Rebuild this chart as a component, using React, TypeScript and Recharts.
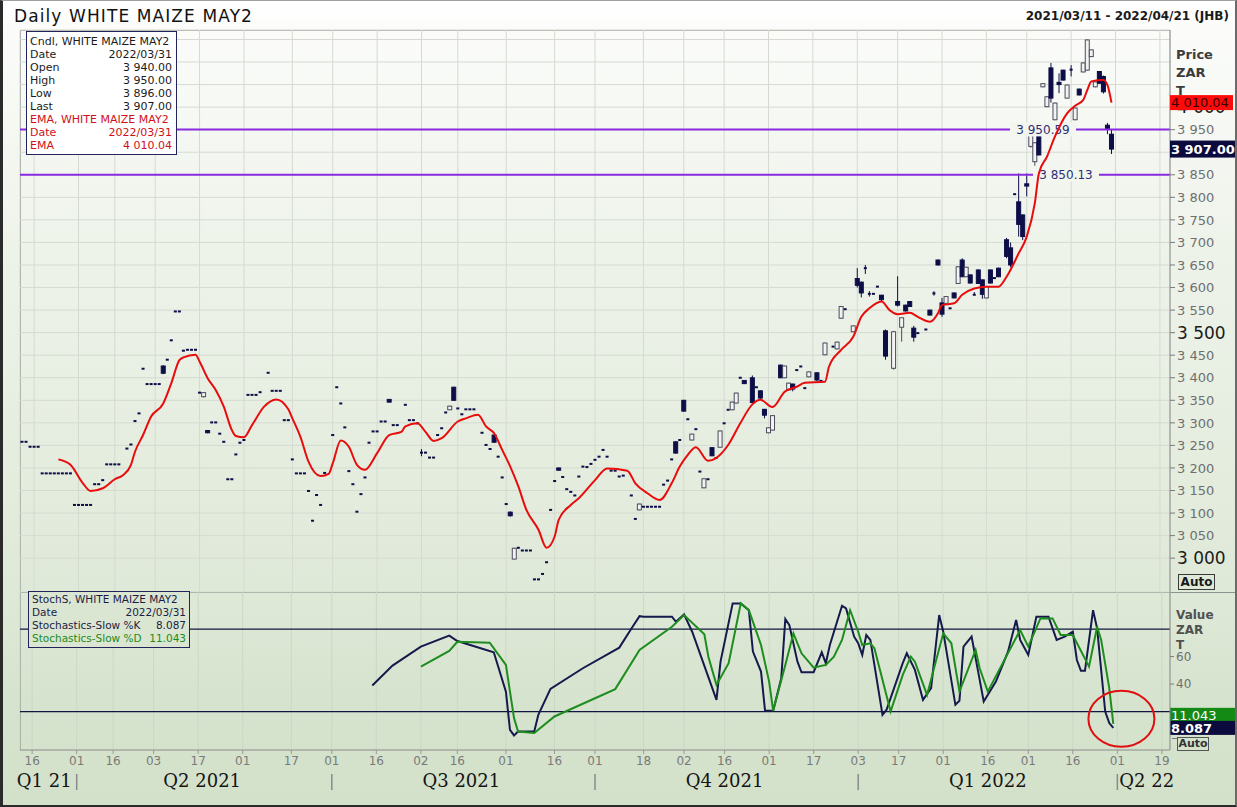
import React from 'react';
import { ComposedChart, Bar, Line, XAxis, YAxis, CartesianGrid, ReferenceLine, ReferenceDot } from 'recharts';

// ---------- axes ----------
const TOTAL_DAYS = 285;
const dateTickIdx = [3, 14, 23, 33, 44, 55, 67, 77, 88, 99, 108, 120, 132, 142, 154, 164, 174, 185, 196, 207, 217, 228, 239, 249, 260, 271, 282];
const dateTickLabel = ['16', '01', '16', '03', '17', '01', '17', '01', '16', '02', '16', '01', '16', '01', '18', '02', '16', '01', '17', '03', '17', '01', '16', '01', '16', '01', '19'];
const quarterTickIdx = [6, 14, 45, 77, 109, 142, 174, 207, 239, 271];
const quarterTickLabel = ['Q1 21', '|', 'Q2 2021', '|', 'Q3 2021', '|', 'Q4 2021', '|', 'Q1 2022', '|Q2 22'];
const priceTicks = [3000, 3050, 3100, 3150, 3200, 3250, 3300, 3350, 3400, 3450, 3500, 3550, 3600, 3650, 3700, 3750, 3800, 3850, 3900, 3950, 4000, 4050, 4100, 4150];
const priceDomain = [2925, 4171];
const stochTicks = [40, 60];
const stochDomain = [-8, 107];
const stochBands = [80, 20];
const levelValues = [3950.59, 3850.13];
const lastDate = '2022/03/31';

// ---------- flat days (open = high = low = close) ----------
const flatDay = [0, 1, 2, 3, 4, 5, 6, 7, 8, 9, 10, 11, 12, 13, 14, 15, 16, 17, 18, 19, 20, 21, 22, 23, 24, 26, 27, 28, 29, 30, 31, 32, 33, 34, 36, 37, 38, 39, 40, 41, 42, 43, 44, 47, 48, 49, 50, 51, 52, 53, 54, 55, 56, 57, 58, 59, 61, 62, 63, 64, 65, 66, 67, 68, 69, 70, 71, 72, 73, 74, 75, 77, 78, 79, 80, 81, 82, 83, 84, 85, 86, 87, 88, 89, 90, 92, 93, 95, 96, 97, 98, 100, 101, 102, 103, 104, 105, 108, 109, 110, 111, 112, 114, 115, 116, 118, 119, 120, 123, 124, 125, 126, 127, 128, 129, 130, 131, 132, 134, 135, 136, 137, 138, 139, 140, 141, 142, 143, 144, 145, 146, 147, 148, 149, 151, 152, 154, 155, 156, 157, 158, 159, 160, 161, 163, 165, 167, 168, 170, 172, 174, 175, 178, 182, 192, 193, 194, 198, 201, 204, 211, 212, 222, 224, 230, 241, 246];
const flatPrice = [3258, 3258, 3247, 3247, 3247, 3188, 3188, 3188, 3188, 3188, 3188, 3188, 3188, 3118, 3118, 3118, 3118, 3118, 3164, 3164, 3173, 3208, 3208, 3208, 3208, 3243, 3252, 3304, 3321, 3420, 3386, 3386, 3386, 3386, 3440, 3483, 3547, 3547, 3460, 3462, 3462, 3462, 3367, 3301, 3301, 3276, 3258, 3175, 3175, 3230, 3256, 3262, 3362, 3362, 3362, 3368, 3411, 3371, 3371, 3371, 3306, 3306, 3219, 3188, 3188, 3188, 3149, 3083, 3140, 3118, 3189, 3273, 3379, 3343, 3290, 3193, 3164, 3103, 3142, 3179, 3256, 3281, 3281, 3303, 3303, 3295, 3295, 3340, 3306, 3306, 3299, 3234, 3223, 3223, 3273, 3288, 3323, 3332, 3319, 3330, 3330, 3330, 3278, 3251, 3242, 3225, 3179, 3120, 3023, 3017, 3017, 3017, 2953, 2953, 2965, 2991, 3107, 3171, 3180, 3153, 3147, 3139, 3181, 3203, 3202, 3209, 3218, 3225, 3240, 3225, 3194, 3194, 3181, 3183, 3139, 3087, 3114, 3114, 3114, 3114, 3114, 3163, 3172, 3219, 3262, 3308, 3286, 3192, 3175, 3222, 3299, 3329, 3400, 3379, 3417, 3425, 3377, 3393, 3469, 3552, 3586, 3602, 3499, 3507, 3554, 3621, 3807];

// ---------- candles ----------
const candleDay = [35, 45, 46, 91, 99, 106, 107, 117, 121, 122, 133, 153, 162, 164, 166, 169, 171, 173, 176, 177, 179, 181, 183, 184, 185, 186, 188, 189, 190, 191, 195, 197, 199, 202, 203, 206, 207, 208, 209, 210, 213, 214, 216, 217, 218, 219, 220, 221, 225, 226, 227, 228, 229, 231, 232, 233, 234, 235, 236, 237, 238, 239, 240, 242, 244, 245, 247, 248, 249, 250, 251, 252, 253, 254, 255, 256, 257, 258, 259, 260, 261, 262, 263, 264, 265, 266, 267, 268, 269, 270];
const candleOpen = [3426, 3358, 3283, 3352, 3234, 3329, 3379, 3273, 3102, 2998, 3200, 3107, 3258, 3350, 3262, 3156, 3245, 3246, 3329, 3344, 3394, 3400, 3371, 3330, 3278, 3284, 3428, 3400, 3373, 3386, 3402, 3411, 3451, 3464, 3532, 3502, 3620, 3612, 3643, 3586, 3583, 3504, 3421, 3569, 3512, 3561, 3569, 3510, 3550, 3587, 3661, 3566, 3565, 3588, 3609, 3661, 3624, 3628, 3584, 3639, 3617, 3577, 3639, 3643, 3706, 3688, 3790, 3761, 3830, 3913, 3879, 3939, 4045, 4001, 4087, 3972, 4055, 4082, 4020, 4083, 3972, 4040, 4078, 4082, 4112, 4045, 4079, 4068, 3960, 3940];
const candleHigh = [3428, 3368, 3284, 3353, 3242, 3338, 3380, 3274, 3104, 3023, 3201, 3121, 3259, 3351, 3276, 3177, 3246, 3283, 3347, 3367, 3395, 3405, 3372, 3331, 3290, 3317, 3429, 3427, 3389, 3387, 3414, 3412, 3478, 3480, 3559, 3516, 3643, 3613, 3650, 3592, 3584, 3507, 3504, 3625, 3533, 3562, 3570, 3515, 3551, 3592, 3662, 3577, 3581, 3589, 3647, 3665, 3646, 3629, 3590, 3640, 3618, 3603, 3640, 3644, 3710, 3700, 3853, 3762, 3853, 3952, 3922, 3940, 4053, 4024, 4098, 4010, 4075, 4083, 4050, 4093, 3999, 4041, 4099, 4150, 4128, 4057, 4080, 4070, 3965, 3950];
const candleLow = [3408, 3356, 3277, 3345, 3226, 3328, 3349, 3256, 3092, 2997, 3194, 3106, 3232, 3325, 3261, 3155, 3226, 3245, 3328, 3343, 3386, 3343, 3351, 3310, 3277, 3283, 3399, 3399, 3372, 3370, 3401, 3392, 3450, 3463, 3531, 3501, 3600, 3578, 3630, 3580, 3570, 3440, 3418, 3558, 3480, 3547, 3557, 3480, 3538, 3582, 3649, 3535, 3564, 3576, 3608, 3623, 3623, 3609, 3584, 3608, 3575, 3576, 3609, 3623, 3665, 3645, 3713, 3705, 3802, 3910, 3870, 3893, 4044, 4000, 4010, 3971, 4031, 4059, 4019, 4068, 3971, 4026, 4077, 4081, 4111, 4044, 4052, 4030, 3940, 3896];
const candleClose = [3410, 3367, 3278, 3346, 3234, 3337, 3350, 3257, 3094, 3022, 3195, 3120, 3233, 3326, 3275, 3176, 3227, 3282, 3346, 3366, 3387, 3345, 3355, 3317, 3289, 3316, 3400, 3426, 3388, 3375, 3413, 3395, 3477, 3479, 3558, 3515, 3605, 3588, 3643, 3586, 3573, 3448, 3502, 3561, 3533, 3548, 3558, 3490, 3539, 3587, 3650, 3541, 3580, 3577, 3646, 3624, 3645, 3610, 3584, 3609, 3585, 3602, 3610, 3624, 3669, 3650, 3740, 3713, 3825, 3950, 3921, 3894, 4052, 4023, 4020, 4009, 4050, 4060, 4049, 4083, 3998, 4027, 4098, 4149, 4127, 4056, 4053, 4034, 3952, 3907];

// ---------- EMA ----------
const emaDay = [9, 12, 15, 17, 20, 23, 25, 27, 28, 30, 32, 35, 37, 39, 40, 43, 44, 46, 48, 50, 52, 53, 55, 57, 60, 63, 66, 67, 69, 71, 74, 76, 77, 79, 81, 83, 85, 88, 91, 94, 95, 98, 100, 102, 104, 108, 110, 113, 115, 117, 119, 121, 123, 125, 128, 130, 132, 133, 136, 138, 142, 145, 150, 152, 155, 158, 161, 163, 165, 167, 170, 172, 175, 178, 181, 183, 186, 189, 192, 194, 199, 200, 203, 206, 208, 210, 213, 215, 217, 220, 222, 225, 227, 228, 231, 233, 236, 239, 242, 244, 247, 249, 251, 252, 254, 256, 259, 261, 263, 264, 265, 268, 269, 270];
const emaValue = [3219, 3207, 3167, 3149, 3155, 3175, 3184, 3207, 3236, 3273, 3314, 3343, 3388, 3439, 3445, 3451, 3436, 3399, 3373, 3336, 3284, 3271, 3268, 3295, 3336, 3352, 3330, 3310, 3269, 3214, 3182, 3187, 3210, 3261, 3247, 3207, 3196, 3233, 3273, 3280, 3292, 3299, 3280, 3260, 3266, 3303, 3310, 3318, 3292, 3277, 3240, 3203, 3159, 3107, 3063, 3023, 3048, 3085, 3118, 3133, 3173, 3199, 3194, 3166, 3144, 3129, 3166, 3203, 3229, 3246, 3216, 3222, 3251, 3299, 3341, 3351, 3335, 3369, 3380, 3389, 3391, 3425, 3462, 3491, 3535, 3554, 3569, 3550, 3541, 3544, 3535, 3524, 3543, 3561, 3565, 3584, 3598, 3602, 3602, 3624, 3676, 3713, 3787, 3853, 3890, 3935, 3986, 4003, 4016, 4038, 4057, 4060, 4049, 4010.04];

// ---------- Stochastics slow ----------
const stochKDay = [87, 92, 99, 106, 108, 117, 120, 121, 122, 123, 127, 128, 131, 139, 148, 151, 153, 154, 161, 162, 164, 166, 172, 173, 176, 178, 180, 181, 183, 184, 186, 188, 189, 190, 192, 193, 196, 198, 199, 200, 203, 204, 206, 207, 208, 209, 210, 213, 214, 218, 219, 221, 223, 225, 227, 228, 231, 232, 233, 235, 237, 238, 241, 244, 246, 247, 249, 251, 254, 256, 258, 260, 261, 262, 263, 265, 266, 268, 269, 270];
const stochKValue = [38.9, 53.4, 67.2, 75.2, 71.3, 63.1, 34.5, 6.7, 2.6, 5.5, 5.5, 17.6, 36.5, 51.5, 66.5, 80.5, 89.4, 89, 89, 85.3, 90.7, 78.1, 28.5, 56.3, 98.7, 98.7, 93.8, 63.6, 49.1, 20.5, 20.5, 44.3, 87.3, 82.9, 56.3, 48.6, 48.6, 63.1, 55.2, 68.4, 97, 95, 74.5, 69.7, 61.2, 75.7, 72.1, 17.6, 21.3, 55.2, 62.4, 50.3, 28.5, 37, 90.2, 78.1, 24.9, 27.8, 67.2, 74.5, 43, 27.3, 41.8, 63.6, 86.6, 72.1, 61.2, 89, 89, 72.1, 74.5, 78.1, 57.5, 49.6, 49.6, 93.8, 80.5, 20, 11.6, 8.087];
const stochDDay = [99, 106, 108, 116, 120, 122, 123, 127, 132, 147, 153, 161, 164, 169, 170, 172, 175, 178, 180, 183, 185, 186, 189, 191, 193, 196, 199, 201, 203, 205, 207, 208, 210, 211, 215, 218, 220, 221, 224, 228, 230, 232, 236, 237, 239, 247, 249, 252, 255, 257, 260, 264, 266, 267, 269, 270];
const stochDValue = [52.7, 64.1, 70.8, 70.1, 53.9, 15.2, 5.5, 4.4, 16.4, 36.3, 64.8, 81.7, 90.2, 76.2, 59.9, 39.4, 55.2, 98.7, 93.8, 68.4, 41.8, 20.5, 53.9, 76.9, 62.4, 52, 53.9, 59.9, 72.1, 93.8, 78.1, 68.4, 69.7, 66, 20, 46.7, 59.9, 56.3, 32.1, 76.9, 69.7, 34.5, 64.8, 51.5, 34.5, 79.3, 67.2, 87.8, 87.8, 75.7, 75.7, 52.7, 81.7, 72.1, 37, 11.043];

// ---------- table ----------
const rows: any[] = [];
for (let i = 0; i < TOTAL_DAYS; i++) {
  const r: any = { i };
  const ci = candleDay.indexOf(i);
  const fi = flatDay.indexOf(i);
  if (ci >= 0) {
    r.o = candleOpen[ci]; r.h = candleHigh[ci]; r.l = candleLow[ci]; r.c = candleClose[ci];
  } else if (fi >= 0) {
    r.o = r.h = r.l = r.c = flatPrice[fi];
  }
  const ei = emaDay.indexOf(i);
  if (ei >= 0) r.ema = emaValue[ei];
  const ki = stochKDay.indexOf(i);
  if (ki >= 0) r.k = stochKValue[ki];
  const di = stochDDay.indexOf(i);
  if (di >= 0) r.d = stochDValue[di];
  rows.push(r);
}

const nLast = candleDay.length - 1;
const lastOpen = candleOpen[nLast];
const lastHigh = candleHigh[nLast];
const lastLow = candleLow[nLast];
const lastClose = candleClose[nLast];
const lastEma = emaValue[emaValue.length - 1];
const lastK = stochKValue[stochKValue.length - 1];
const lastD = stochDValue[stochDValue.length - 1];

const fmt = (v: number, dec: number) => {
  const s = v.toFixed(dec);
  const [a, b] = s.split('.');
  const w = a.replace(/\B(?=(\d{3})+(?!\d))/g, ' ');
  return b ? `${w}.${b}` : w;
};

const candleRange = (r: any) => (r.o == null ? null : [r.l, r.h > r.l ? r.h : r.l + 0.01]);

const DARK = '#0d0d48';
const HOLLOW_EDGE = '#4c4c5c';

const Candle = (props: any) => {
  const { x, y, width, height, payload } = props;
  if (!payload || payload.o == null) return null;
  const { o, h, l, c } = payload;
  const top = Math.min(y, y + height);
  const bot = Math.max(y, y + height);
  const span = h - l;
  const py = (v: number) => (span > 0 ? top + ((h - v) / span) * (bot - top) : top);
  const cx = x + width / 2;
  if (span === 0 || o === c) {
    return (
      <g>
        {span > 0 && <line x1={cx} x2={cx} y1={py(h)} y2={py(l)} stroke={DARK} strokeWidth={1} />}
        <rect x={cx - 1.5} y={py(c) - 1} width={3} height={2} fill={DARK} />
      </g>
    );
  }
  const up = c > o;
  const bTop = py(Math.max(o, c));
  const bBot = py(Math.min(o, c));
  return (
    <g>
      <line x1={cx} x2={cx} y1={py(h)} y2={py(l)} stroke={up ? HOLLOW_EDGE : DARK} strokeWidth={1} />
      <rect x={cx - 2} y={bTop} width={4} height={Math.max(bBot - bTop, 1)} fill={up ? '#f3f3f3' : DARK} stroke={up ? HOLLOW_EDGE : DARK} strokeWidth={1} />
    </g>
  );
};

const PriceTick = (props: any) => {
  const { x, y, payload } = props;
  const v = payload.value;
  if (v > 4000) return null;
  // the label hidden under the last-price tag in the reference
  if (Math.abs(v - lastClose) < 10) return null;
  const major = v % 500 === 0;
  return (
    <g>
      <line x1={x} x2={x + 5} y1={y} y2={y} stroke="#7a7a7a" strokeWidth={1} />
      <text x={x + 7} y={y} dy="0.36em" fontSize={major ? 17 : 13} fill={major ? '#1a1a1a' : '#6f6f6f'} textAnchor="start">
        {fmt(v, 0)}
      </text>
    </g>
  );
};

const StochTick = (props: any) => {
  const { x, y, payload } = props;
  return (
    <g>
      <line x1={x} x2={x + 4} y1={y} y2={y} stroke="#7a7a7a" strokeWidth={1} />
      <text x={x + 6} y={y} dy="0.36em" fontSize={12} fill="#6f6f6f" textAnchor="start">
        {payload.value}
      </text>
    </g>
  );
};

const QuarterTick = (props: any) => {
  const { x, y, payload } = props;
  const k = quarterTickIdx.indexOf(payload.value);
  const label = quarterTickLabel[k];
  if (label === undefined) return null;
  const textStyle = { fontFamily: '"DejaVu Serif", serif', fontSize: 18, fill: '#141414' };
  if (label === '|') {
    return <line x1={x} x2={x} y1={y - 4} y2={y + 12} stroke="#8a8a8a" strokeWidth={1.5} />;
  }
  if (label.startsWith('|')) {
    return (
      <g>
        <line x1={x} x2={x} y1={y - 4} y2={y + 12} stroke="#8a8a8a" strokeWidth={1.5} />
        <text x={x + 2} y={y + 9} textAnchor="start" {...textStyle}>{label.slice(1)}</text>
      </g>
    );
  }
  return (
    <text x={x} y={y + 9} textAnchor="middle" {...textStyle}>{label}</text>
  );
};

const LevelLabel = (props: any) => {
  const { viewBox, text, fromRight } = props;
  if (!viewBox) return null;
  const cx = viewBox.x + viewBox.width - fromRight;
  const cy = viewBox.y;
  return (
    <g>
      <rect x={cx - 33} y={cy - 7} width={66} height={14} fill="#f2f6ef" />
      <text x={cx} y={cy} dy="0.36em" textAnchor="middle" fontSize={12} fill="#2e2e78">{text}</text>
    </g>
  );
};

const ValueTag = (props: any) => {
  const { viewBox, text, bg, color, bold, shift = 0, w = 64, h = 15, fs = 13 } = props;
  if (!viewBox) return null;
  const x = viewBox.x + viewBox.width;
  const y = viewBox.y + shift;
  return (
    <g>
      <rect x={x} y={y - h / 2} width={w} height={h} fill={bg} />
      <text x={x + 1} y={y} dy="0.36em" fontSize={fs} fontWeight={bold ? 'bold' : 'normal'} fill={color}>{text}</text>
    </g>
  );
};

const Ellipse = (props: any) => {
  const { cx, cy } = props;
  return <ellipse cx={cx} cy={cy} rx={33} ry={28} fill="none" stroke="#e01010" strokeWidth={2} />;
};

const LegendRow = ({ k, v, color }: { k: string; v?: string; color: string }) => (
  <div style={{ display: 'flex', justifyContent: 'space-between', color, whiteSpace: 'nowrap' }}>
    <span>{k}</span>
    {v !== undefined && <span>{v}</span>}
  </div>
);

export default function App() {
  const black = '#1b1b1b';
  const red = '#d0101a';
  return (
    <div
      style={{
        position: 'absolute', left: 0, top: 0, width: 1237, height: 807, overflow: 'hidden',
        fontFamily: '"DejaVu Sans", sans-serif',
        background: 'linear-gradient(180deg, #ffffff 0px, #fbfcfa 30px, #eef3ea 250px, #dfe9d8 590px, #d6e3ce 700px, #d3e1ca 807px)',
      }}
    >
      {/* header */}
      <div style={{ position: 'absolute', left: 14, top: 6, fontSize: 17, letterSpacing: 1.1, color: '#111', whiteSpace: 'nowrap' }}>
        Daily WHITE MAIZE MAY2
      </div>
      <div style={{ position: 'absolute', right: 8, top: 9, fontSize: 12, fontWeight: 'bold', color: '#1a1a1a', whiteSpace: 'nowrap' }}>
        2021/03/11 - 2022/04/21 (JHB)
      </div>

      {/* right axis titles */}
      <div style={{ position: 'absolute', left: 1176, top: 46, fontSize: 13, fontWeight: 'bold', color: '#3c3c3c', lineHeight: '18px' }}>
        <div>Price</div>
        <div>ZAR</div>
        <div>T</div>
      </div>
      <div style={{ position: 'absolute', left: 1176, top: 608, fontSize: 12, fontWeight: 'bold', color: '#505050', lineHeight: '15px' }}>
        <div>Value</div>
        <div>ZAR</div>
        <div>T</div>
      </div>

      {/* frame lines */}
      <div style={{ position: 'absolute', left: 20, top: 30, width: 1150, height: 1, background: '#a2a6a0' }} />
      <div style={{ position: 'absolute', left: 20, top: 30, width: 1, height: 720, background: '#8e928c' }} />
      <div style={{ position: 'absolute', left: 20, top: 592, width: 1217, height: 1, background: '#8e928c' }} />

      {/* main price chart */}
      <div style={{ position: 'absolute', left: 0, top: 0 }}>
        <ComposedChart width={1237} height={600} data={rows} margin={{ top: 30, right: 0, bottom: 8, left: 20 }} barCategoryGap={0}>
          <CartesianGrid stroke="#d5dad1" strokeWidth={1} />
          <XAxis dataKey="i" type="category" hide ticks={dateTickIdx} interval={0} />
          <YAxis
            orientation="right"
            width={67}
            domain={priceDomain}
            ticks={priceTicks}
            interval={0}
            allowDataOverflow
            tick={<PriceTick />}
            tickLine={false}
            tickSize={0}
            tickMargin={0}
            axisLine={{ stroke: '#8a8a8a' }}
          />
          <ReferenceLine y={levelValues[0]} stroke="#8a2be2" strokeWidth={2} label={<LevelLabel text={fmt(levelValues[0], 2)} fromRight={127} />} />
          <ReferenceLine y={levelValues[1]} stroke="#8a2be2" strokeWidth={2} label={<LevelLabel text={fmt(levelValues[1], 2)} fromRight={104} />} />
          <Bar dataKey={candleRange} shape={<Candle />} barSize={4} isAnimationActive={false} />
          <Line dataKey="ema" type="monotone" stroke="#e80c0c" strokeWidth={2} dot={false} connectNulls isAnimationActive={false} />
        </ComposedChart>
      </div>

      {/* price value tags overlay (same scale, drawn above the axis labels) */}
      <div style={{ position: 'absolute', left: 0, top: 0 }}>
        <ComposedChart width={1237} height={600} data={rows} margin={{ top: 30, right: 67, bottom: 8, left: 20 }}>
          <XAxis dataKey="i" type="category" hide />
          <YAxis hide domain={priceDomain} allowDataOverflow />
          <ReferenceLine y={lastEma} strokeOpacity={0} label={<ValueTag text={fmt(lastEma, 2)} bg="#ff0a0a" color="#3a0000" w={63} h={15} fs={13} />} />
          <ReferenceLine y={lastClose} strokeOpacity={0} label={<ValueTag text={fmt(lastClose, 2)} bg="#0b0b3e" color="#ffffff" bold w={66} h={17} fs={13} />} />
        </ComposedChart>
      </div>

      {/* stochastics chart */}
      <div style={{ position: 'absolute', left: 0, top: 592 }}>
        <ComposedChart width={1237} height={215} data={rows} margin={{ top: 0, right: 0, bottom: 7, left: 20 }}>
          <CartesianGrid stroke="#cbd8c4" strokeWidth={1} horizontal={false} />
          <XAxis
            dataKey="i"
            type="category"
            ticks={dateTickIdx}
            interval={0}
            height={20}
            tickSize={4}
            tickMargin={2}
            tickFormatter={(v: number) => dateTickLabel[dateTickIdx.indexOf(v)] ?? ''}
            tick={{ fontSize: 12, fill: '#7a7a7a' }}
            tickLine={{ stroke: '#9a9a9a' }}
            axisLine={{ stroke: '#8a8a8a' }}
          />
          <XAxis
            xAxisId="q"
            dataKey="i"
            type="category"
            ticks={quarterTickIdx}
            interval={0}
            height={30}
            tickLine={false}
            axisLine={false}
            tick={<QuarterTick />}
          />
          <YAxis
            orientation="right"
            width={67}
            domain={stochDomain}
            ticks={stochTicks}
            interval={0}
            allowDataOverflow
            tick={<StochTick />}
            tickLine={false}
            tickSize={0}
            tickMargin={0}
            axisLine={{ stroke: '#8a8a8a' }}
          />
          <ReferenceLine y={stochBands[0]} stroke="#101640" strokeWidth={1.3} />
          <ReferenceLine y={stochBands[1]} stroke="#101640" strokeWidth={1.3} />
          <Line dataKey="k" type="linear" stroke="#141a4c" strokeWidth={2} dot={false} connectNulls isAnimationActive={false} />
          <Line dataKey="d" type="linear" stroke="#1e8c1e" strokeWidth={2} dot={false} connectNulls isAnimationActive={false} />
          <ReferenceDot x={272} y={14.7} r={30} shape={<Ellipse />} />
          <ReferenceLine y={lastD} strokeOpacity={0} label={<ValueTag text={fmt(lastD, 3)} bg="#138a13" color="#ffffff" shift={-9} w={67} h={14} fs={13} />} />
          <ReferenceLine y={lastK} strokeOpacity={0} label={<ValueTag text={fmt(lastK, 3)} bg="#0b0b3e" color="#ffffff" bold w={67} h={14} fs={13} />} />
        </ComposedChart>
      </div>

      {/* legends */}
      <div
        style={{
          position: 'absolute', left: 26, top: 31, width: 151, height: 124, background: '#ffffff',
          border: '1px solid #23235c', boxSizing: 'border-box', fontSize: 11, lineHeight: '13px', padding: '3px 4px 0 3px',
        }}
      >
        <LegendRow k="Cndl, WHITE MAIZE MAY2" color={black} />
        <LegendRow k="Date" v={lastDate} color={black} />
        <LegendRow k="Open" v={fmt(lastOpen, 2)} color={black} />
        <LegendRow k="High" v={fmt(lastHigh, 2)} color={black} />
        <LegendRow k="Low" v={fmt(lastLow, 2)} color={black} />
        <LegendRow k="Last" v={fmt(lastClose, 2)} color={black} />
        <LegendRow k="EMA, WHITE MAIZE MAY2" color={red} />
        <LegendRow k="Date" v={lastDate} color={red} />
        <LegendRow k="EMA" v={fmt(lastEma, 2)} color={red} />
      </div>
      <div
        style={{
          position: 'absolute', left: 28, top: 591, width: 162, height: 57, background: '#dae6d2',
          border: '1px solid #23235c', boxSizing: 'border-box', fontSize: 10.5, lineHeight: '13px', padding: '1px 3px 0 3px',
        }}
      >
        <LegendRow k="StochS, WHITE MAIZE MAY2" color="#1c1c44" />
        <LegendRow k="Date" v={lastDate} color="#1c1c44" />
        <LegendRow k="Stochastics-Slow %K" v={fmt(lastK, 3)} color="#1c1c44" />
        <LegendRow k="Stochastics-Slow %D" v={fmt(lastD, 3)} color="#1a8c1a" />
      </div>

      {/* Auto buttons */}
      <div style={{ position: 'absolute', left: 1178, top: 574, width: 37, height: 16, boxSizing: 'border-box', border: '1px solid #3a3a3a', fontSize: 12, fontWeight: 'bold', lineHeight: '14px', textAlign: 'center', color: '#1a1a1a' }}>
        Auto
      </div>
      <div style={{ position: 'absolute', left: 1172, top: 738, width: 5, height: 1, background: '#7a7a7a' }} />
      <div style={{ position: 'absolute', left: 1177, top: 737, width: 32, height: 14, boxSizing: 'border-box', border: '1px solid #555', fontSize: 11, fontWeight: 'bold', lineHeight: '12px', textAlign: 'center', color: '#333' }}>
        Auto
      </div>

      {/* outer frame */}
      <div style={{ position: 'absolute', left: 0, top: 0, width: 1237, height: 807, boxSizing: 'border-box', borderLeft: '3px solid #2a2a2a', borderTop: '1px solid #a0a0a0', borderRight: '2px solid #6a6a6a', borderBottom: '2px solid #2a2a2a', pointerEvents: 'none' }} />
    </div>
  );
}
